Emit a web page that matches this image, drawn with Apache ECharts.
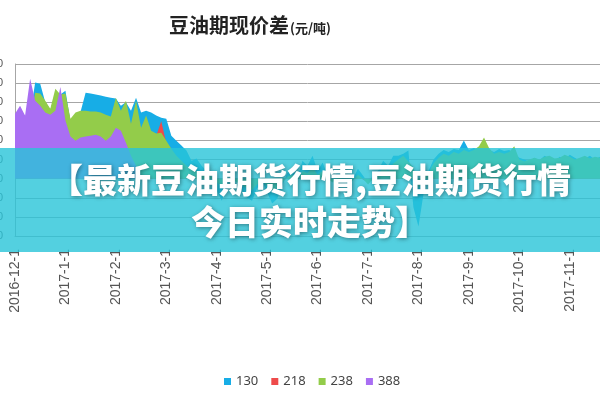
<!DOCTYPE html>
<html>
<head>
<meta charset="utf-8">
<script src="https://cdn.jsdelivr.net/npm/echarts@6/dist/echarts.min.js"></script>
<style>
html,body{margin:0;padding:0;background:#fff;}
#c{width:600px;height:400px;}
</style>
</head>
<body>
<div id="c"></div>
<script>
// Tick labels (one per month, 10 slots each)
var tickLabels = ['2016-12-1','2017-1-1','2017-2-1','2017-3-1','2017-4-1','2017-5-1','2017-6-1','2017-7-1','2017-8-1','2017-9-1','2017-10-1','2017-11-1'];
var seriesNames = ['130','218','238','388'];

var s130 = [
 300, 320, 300, 330, 503, 497, 400, 360, 440, 440,
 460, 300, 340, 350, 450, 445, 440, 435, 429, 424,
 419, 382, 400, 356, 424, 346, 356, 346, 330, 319,
 314, 225, 199, 173, 147, 94, 105, 68, 42, 0,
 -63, -115, -37, 16, -10, -63, -100, -115, -52, -10,
 -73, -130, -105, -37, 31, 52, 0, 94, 68, 120,
 42, 84, 16, -10, 42, 16, -37, 0, 52, 16,
 -21, 16, 42, 94, 68, 120, 120, 130, 147, -150,
 -250, -80, 40, 100, 130, 150, 140, 155, 150, 200,
 150, 160, 150, 140, 150, 140, 155, 145, 150, 130,
 110, 100, 90, 110, 95, 120, 105, 90, 115, 100,
 125, 110, 95, 105, 120, 100, 115
];
var s218 = [
 270, 290, 280, 290, 430, 430, 390, 350, 450, 430,
 430, 300, 330, 340, 340, 335, 335, 330, 320, 310,
 400, 340, 390, 270, 390, 250, 315, 240, 225, 300,
 185, 145, 110, 85, 60,
 40, 30, 20, 10, 0, -10, -30, 0, -5, -10,
 -20, -40, -50, -20, 0, -30, -50, -40, -10, 0,
 10, 0, 30, 20, 50, 10, 30, -5, -10, 0,
 -5, -10, 0, 10, -5, -20, -5, 10, 50, 30,
 70, 90, 110, 80, 50, -40, -5, 20, 70, 100,
 120, 110, 130, 120, 140, 130, 140, 160, 200, 150,
 120, 130, 120, 130, 160, 90, 80, 90, 100, 90,
 105, 110, 95, 100, 115, 105, 90, 100, 110, 95,
 105, 100
];
var s238 = [
 280, 300, 290, 300, 450, 445, 408, 366, 470, 440,
 445, 314, 346, 356, 356, 351, 351, 346, 335, 325,
 424, 356, 408, 288, 408, 267, 330, 251, 236, 240,
 199, 157, 120, 94, 68,
 50, 40, 30, 20, 10, -20, -40, -10, 0, -20,
 -30, -50, -60, -30, -10, -40, -60, -50, -20, 10,
 20, -10, 40, 30, 60, 20, 40, 0, -20, 10,
 0, -20, -10, 20, 0, -30, 0, 20, 60, 40,
 80, 100, 120, 90, 60, -50, 0, 30, 80, 110,
 130, 120, 140, 130, 150, 140, 150, 170, 215, 160,
 130, 140, 130, 140, 170, 100, 90, 100, 110, 100,
 115, 120, 105, 110, 125, 115, 100, 110, 120, 105,
 115, 110
];
var s388 = [
 340, 382, 330, 523, 408, 382, 346, 335, 356, 480,
 304, 220, 199, 215, 220, 225, 230, 220, 199, 220,
 267, 251, 188, 120, 68, 16, 0
];

var colors = ['#17ade6','#ee4b4b','#93cc4a','#a96ef3'];

var categories = [];
tickLabels.forEach(function (t) {
  for (var k = 0; k < 10; k++) categories.push(k === 0 ? t : t + '#' + k);
});
categories = categories.slice(0, s130.length);

var allData = [s130, s218, s238, s388];
var series = seriesNames.map(function (n, i) {
  return {
    name: n, type: 'line', data: allData[i], symbol: 'none', showSymbol: false,
    lineStyle: {width: 0}, areaStyle: {color: colors[i], opacity: 1},
    itemStyle: {color: colors[i]}, animation: false
  };
});

var chart = echarts.init(document.getElementById('c'), null, {renderer: 'canvas'});
chart.setOption({
  animation: false,
  color: colors,
  title: {
    text: '{a|豆油期现价差}{b|(元/吨)}',
    left: 164, top: 10,
    textStyle: {
      rich: {
        a: {fontSize: 20, fontWeight: 'bold', color: '#222', fontFamily: '"Noto Sans CJK SC"'},
        b: {fontSize: 13, fontWeight: 'bold', color: '#222', fontFamily: '"Noto Sans CJK SC"', padding: [6, 0, 0, 1]}
      }
    }
  },
  legend: {
    data: seriesNames, left: 219, top: 370, icon: 'rect', itemWidth: 7, itemHeight: 7, itemGap: 13,
    textStyle: {fontSize: 13, color: '#444', fontFamily: '"Noto Sans"'}
  },
  grid: {left: 15, right: 0, top: 64, height: 172, containLabel: false, outerBoundsMode: 'none'},
  xAxis: {
    type: 'category', data: categories, boundaryGap: false,
    axisLine: {onZero: false, lineStyle: {color: '#a6a6a6'}},
    axisTick: {show: false},
    axisLabel: {
      rotate: 90, margin: 13, fontSize: 14, color: '#555', fontFamily: '"Liberation Sans"',
      interval: function (idx) { return idx % 10 === 0; },
      formatter: function (v) { return v.split('#')[0]; }
    },
    splitLine: {show: false}
  },
  yAxis: {
    type: 'value', min: -300, max: 600, interval: 100,
    axisLine: {show: true, lineStyle: {color: '#a6a6a6'}},
    axisTick: {show: false},
    axisLabel: {margin: 12, fontSize: 11, color: '#555', fontFamily: '"Liberation Sans"'},
    splitLine: {lineStyle: {color: '#a6a6a6', width: 1}}
  },
  series: series,
  graphic: [
    {type: 'rect', z: 100, shape: {x: 0, y: 148, width: 600, height: 104},
     style: {fill: 'rgba(40,196,216,0.8)'}},
    {type: 'text', z: 101, x: 310, y: 180,
     style: {text: '【最新豆油期货行情,豆油期货行情', fill: '#fff', font: '900 34px "Noto Sans CJK SC"',
             align: 'center', verticalAlign: 'middle', textAlign: 'center', textVerticalAlign: 'middle',
             textShadowColor: 'rgba(0,0,0,0.4)', textShadowBlur: 4, textShadowOffsetX: 1, textShadowOffsetY: 1}},
    {type: 'text', z: 101, x: 310, y: 222,
     style: {text: '今日实时走势】', fill: '#fff', font: '900 34px "Noto Sans CJK SC"',
             align: 'center', verticalAlign: 'middle', textAlign: 'center', textVerticalAlign: 'middle',
             textShadowColor: 'rgba(0,0,0,0.4)', textShadowBlur: 4, textShadowOffsetX: 1, textShadowOffsetY: 1}}
  ]
});
</script>
</body>
</html>
